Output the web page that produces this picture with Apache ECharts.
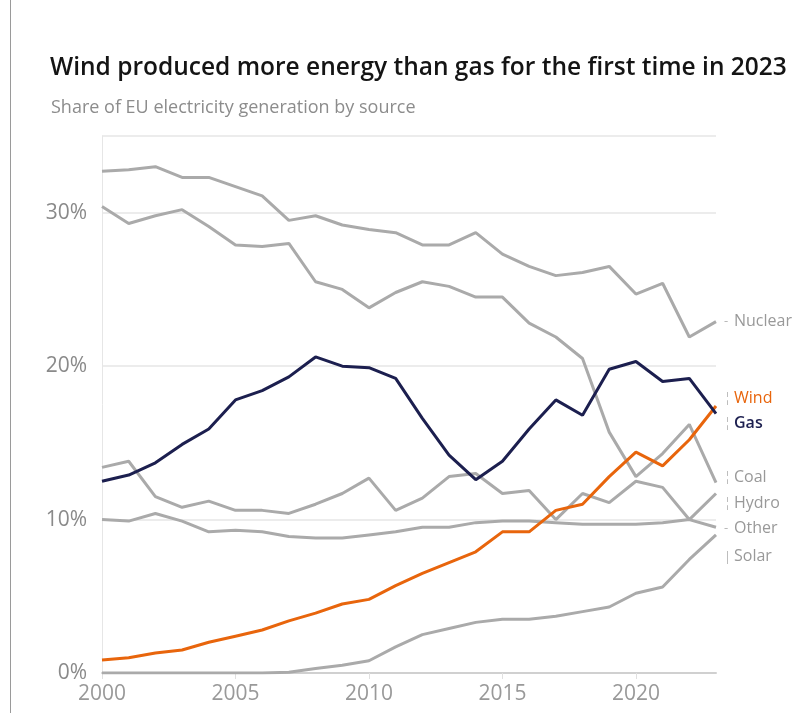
<!DOCTYPE html>
<html>
<head>
<meta charset="utf-8">
<script src="https://cdn.jsdelivr.net/npm/echarts@6/dist/echarts.min.js"></script>
<style>
html,body{margin:0;padding:0;background:#fff;}
#chart{width:795px;height:713px;}
</style>
</head>
<body>
<div id="chart"></div>
<script>
const years = [2000,2001,2002,2003,2004,2005,2006,2007,2008,2009,2010,2011,2012,2013,2014,2015,2016,2017,2018,2019,2020,2021,2022,2023];
const xTicks = [2000,2005,2010,2015,2020];
const yTicks = [0,10,20,30];
const nuclear = [32.7,32.8,33.0,32.3,32.3,31.7,31.1,29.5,29.8,29.2,28.9,28.7,27.9,27.9,28.7,27.3,26.5,25.9,26.1,26.5,24.7,25.4,21.9,22.9];
const coal    = [30.4,29.3,29.8,30.2,29.1,27.9,27.8,28.0,25.5,25.0,23.8,24.8,25.5,25.2,24.5,24.5,22.8,21.9,20.5,15.7,12.8,14.3,16.2,12.4];
const gas     = [12.5,12.9,13.7,14.9,15.9,17.8,18.4,19.3,20.6,20.0,19.9,19.2,16.6,14.2,12.6,13.8,15.9,17.8,16.8,19.8,20.3,19.0,19.2,16.9];
const wind    = [0.85,1.0,1.3,1.5,2.0,2.4,2.8,3.4,3.9,4.5,4.8,5.7,6.5,7.2,7.9,9.2,9.2,10.6,11.0,12.8,14.4,13.5,15.2,17.4];
const hydro   = [13.4,13.8,11.5,10.8,11.2,10.6,10.6,10.4,11.0,11.7,12.7,10.6,11.4,12.8,13.0,11.7,11.9,10.0,11.7,11.1,12.5,12.1,10.0,11.7];
const other   = [10.0,9.9,10.4,9.9,9.2,9.3,9.2,8.9,8.8,8.8,9.0,9.2,9.5,9.5,9.8,9.9,9.9,9.8,9.7,9.7,9.7,9.8,10.0,9.5];
const solar   = [0,0,0,0,0,0,0,0.05,0.3,0.5,0.8,1.7,2.5,2.9,3.3,3.5,3.5,3.7,4.0,4.3,5.2,5.6,7.4,9.0];

const FONT = '"Open Sans", "Noto Sans", sans-serif';
const GREY = '#aaaaaa';

function pairs(arr){ return years.map((y,i)=>[y,arr[i]]); }

function mkSeries(name, data, color, labelColor, dy, mark, bold){
  return {
    name: name,
    type: 'line',
    data: pairs(data),
    showSymbol: false,
    symbol: 'none',
    lineStyle: {color: color, width: 3},
    itemStyle: {color: color},
    emphasis: {disabled: true},
    z: 2,
    endLabel: {
      show: true,
      distance: 8,
      offset: [0, dy],
      formatter: '{m|' + mark + '}{t|' + name + '}',
      rich: {
        m: {color: '#b5b5b5', fontSize: 13, fontFamily: FONT, width: 10},
        t: {color: labelColor, fontSize: 16, fontFamily: FONT, fontWeight: bold ? 600 : 400}
      }
    }
  };
}

const chart = echarts.init(document.getElementById('chart'), null, {renderer: 'canvas'});
chart.setOption({
  animation: false,
  backgroundColor: '#fff',
  title: [
    {text: 'Wind produced more energy than gas for the first time in 2023', left: 45, top: 51,
     textStyle: {fontFamily: FONT, fontSize: 24.5, fontWeight: 600, color: '#141414'}},
    {text: 'Share of EU electricity generation by source', left: 46, top: 94,
     textStyle: {fontFamily: FONT, fontSize: 18, fontWeight: 400, color: '#8c8c8c'}}
  ],
  graphic: [
    {type: 'rect', shape: {x: 10, y: 0, width: 1, height: 713}, style: {fill: '#9a9a9a'}, silent: true}
  ],
  grid: {left: 102, right: 79, top: 136, bottom: 40, containLabel: false},
  xAxis: {
    type: 'value', min: 2000, max: 2023, interval: 5,
    axisLine: {show: true, lineStyle: {color: '#d0d0d0', width: 2}},
    axisTick: {show: true, length: 6, customValues: xTicks, lineStyle: {color: '#e0e0e0'}},
    axisLabel: {customValues: xTicks, color: '#999', fontSize: 21, fontFamily: FONT, margin: 11, formatter: v => String(v)},
    splitLine: {show: false}
  },
  yAxis: {
    type: 'value', min: 0, max: 35, interval: 10,
    axisLine: {show: true, lineStyle: {color: '#e6e6e6', width: 1}},
    axisTick: {show: false},
    axisLabel: {customValues: yTicks, color: '#8a8a8a', fontSize: 21, fontFamily: FONT, margin: 15, formatter: v => v + '%'},
    splitLine: {show: true, lineStyle: {color: '#e6e6e6', width: 1.5}}
  },
  series: [
    mkSeries('Nuclear', nuclear, GREY, '#999', 0, '- ', false),
    mkSeries('Coal', coal, GREY, '#999', -5, '\u00a6', false),
    mkSeries('Hydro', hydro, GREY, '#999', 10, '\u00a6', false),
    mkSeries('Other', other, GREY, '#999', 1, '-', false),
    mkSeries('Solar', solar, GREY, '#999', 22, '|', false),
    Object.assign(mkSeries('Wind', wind, '#e8650c', '#e8650c', -8, '\u00a6', false), {z: 3}),
    Object.assign(mkSeries('Gas', gas, '#1c1f4f', '#1c1f4f', 10, '\u00a6', true), {z: 4})
  ]
});
</script>
</body>
</html>
